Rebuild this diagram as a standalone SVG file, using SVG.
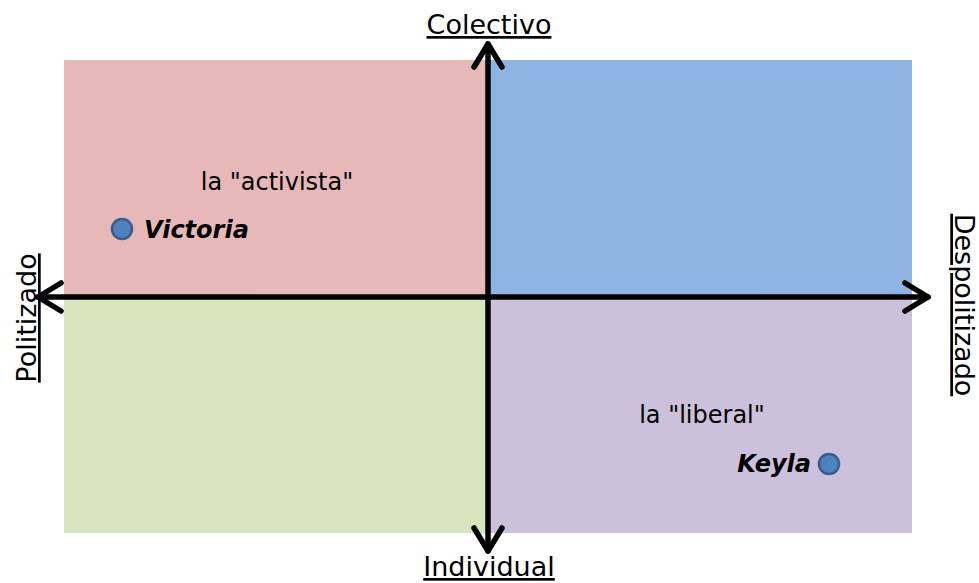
<svg xmlns="http://www.w3.org/2000/svg" width="979" height="583" viewBox="0 0 979 583">
<style>
.lbl{font-family:"DejaVu Sans",Verdana,sans-serif;font-size:27px;fill:#000;text-decoration:underline}
.q{font-family:"DejaVu Sans",Verdana,sans-serif;font-size:24px;fill:#000}
.name{font-family:"DejaVu Sans",Verdana,sans-serif;font-size:24px;font-weight:bold;font-style:italic;fill:#000}
.dot{fill:#4F81BD;stroke:#385D8A;stroke-width:2.5}
.ax{stroke:#000;stroke-width:5.5;fill:none;stroke-linecap:round;stroke-linejoin:round}
</style>
<rect width="979" height="583" fill="#fff"/>
<g id="quadrants">
<rect x="64" y="60" width="424" height="237" fill="#E6B9B8"/>
<rect x="488" y="60" width="424" height="237" fill="#8EB4E3"/>
<rect x="64" y="297" width="424" height="236" fill="#D7E4BD"/>
<rect x="488" y="297" width="424" height="236" fill="#CCC1DA"/>
</g>
<g id="connectors">
<line class="ax" x1="488" y1="44" x2="488" y2="551"/>
<line class="ax" x1="38" y1="297" x2="928" y2="297"/>
<polyline class="ax" points="474,67 488,44 502,67"/>
<polyline class="ax" points="474,528 488,551 502,528"/>
<polyline class="ax" points="61,283 38,297 61,311"/>
<polyline class="ax" points="905,283 928,297 905,311"/>
</g>
<g id="colectivo"><text class="lbl" x="489" y="34" text-anchor="middle">Colectivo</text></g>
<g id="individual"><text class="lbl" x="489" y="576" text-anchor="middle">Individual</text></g>
<g id="politizado"><text class="lbl" transform="translate(36,318) rotate(-90)" text-anchor="middle">Politizado</text></g>
<g id="despolitizado"><text class="lbl" transform="translate(955,305) rotate(90)" text-anchor="middle">Despolitizado</text></g>
<g id="activista"><text class="q" x="277" y="190" text-anchor="middle">la "activista"</text></g>
<g id="liberal"><text class="q" x="702" y="423" text-anchor="middle">la "liberal"</text></g>
<g id="victoria"><circle class="dot" cx="122" cy="229" r="10"/><text class="name" x="144" y="238">Victoria</text></g>
<g id="keyla"><circle class="dot" cx="829" cy="464" r="10"/><text class="name" x="811" y="472" text-anchor="end">Keyla</text></g>
</svg>
